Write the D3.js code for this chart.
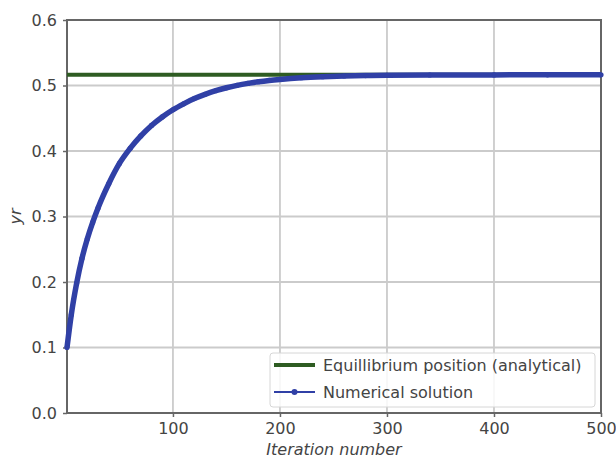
<!DOCTYPE html>
<html>
<head>
<meta charset="utf-8">
<script src="https://cdn.jsdelivr.net/npm/d3@7"></script>
<style>
  html, body { margin: 0; padding: 0; background: #fff; }
  svg { display: block; font-family: "DejaVu Sans", sans-serif; }
</style>
</head>
<body>
<svg id="chart" width="616" height="459"></svg>
<script>
// Iteration numbers at which the numerical solution is sampled
const iterations = [1, 5, 10, 15, 20, 25, 30, 40, 50, 60, 70, 80, 90, 100, 110, 120, 130, 140,
  150, 160, 170, 180, 190, 200, 220, 240, 260, 280, 300, 340, 400, 450, 500];
// Numerical solution y_r at those iterations
const numerical = [0.100, 0.150, 0.198, 0.236, 0.266, 0.291, 0.313, 0.350, 0.381, 0.404, 0.423,
  0.439, 0.452, 0.463, 0.472, 0.480, 0.4865, 0.492, 0.4965, 0.5002, 0.5032, 0.5057, 0.5077,
  0.5093, 0.5118, 0.5134, 0.5145, 0.5152, 0.5156, 0.516, 0.5162, 0.5163, 0.5163];
// Analytical equilibrium position
const equilibrium = 0.5165;
const xTicks = [100, 200, 300, 400, 500];
const yTicks = [0.0, 0.1, 0.2, 0.3, 0.4, 0.5, 0.6];
const legendLabels = ["Equillibrium position (analytical)", "Numerical solution"];

const svg = d3.select("#chart");
const margin = { left: 67, right: 15, top: 20, bottom: 46 };
const W = 616, H = 459;
const fontSize = "16px";

const x = d3.scaleLinear().domain([1, 500]).range([margin.left, W - margin.right]);
const y = d3.scaleLinear().domain([0, 0.6]).range([H - margin.bottom, margin.top]);

const gridColor = "#cbcbcb";
const spineColor = "#666";
const textColor = "#444";

// grid
svg.append("g").selectAll("line.gx").data(xTicks).join("line")
  .attr("x1", d => x(d)).attr("x2", d => x(d))
  .attr("y1", y(0)).attr("y2", y(0.6))
  .attr("stroke", gridColor).attr("stroke-width", 1.8);
svg.append("g").selectAll("line.gy").data(yTicks).join("line")
  .attr("x1", x(1)).attr("x2", x(500))
  .attr("y1", d => y(d)).attr("y2", d => y(d))
  .attr("stroke", gridColor).attr("stroke-width", 1.8);

// axes
const xAxis = svg.append("g").attr("transform", `translate(0,${y(0)})`)
  .call(d3.axisBottom(x).tickValues(xTicks).tickSize(4).tickPadding(6).tickFormat(d3.format("d")));
const yAxis = svg.append("g").attr("transform", `translate(${x(1)},0)`)
  .call(d3.axisLeft(y).tickValues(yTicks).tickSize(4).tickPadding(6).tickFormat(d3.format(".1f")));
[xAxis, yAxis].forEach(g => {
  g.select(".domain").remove();
  g.selectAll(".tick line").attr("stroke", spineColor).attr("stroke-width", 1.5);
  g.selectAll(".tick text").attr("fill", textColor).style("font-size", fontSize)
    .style("font-family", "'DejaVu Sans', sans-serif");
});

// spines
svg.append("rect")
  .attr("x", x(1)).attr("y", y(0.6))
  .attr("width", x(500) - x(1)).attr("height", y(0) - y(0.6))
  .attr("fill", "none").attr("stroke", spineColor).attr("stroke-width", 2);

// equilibrium line
const green = "#2e5c22";
const blue = "#3040a6";
svg.append("line")
  .attr("x1", x(1)).attr("x2", x(500))
  .attr("y1", y(equilibrium)).attr("y2", y(equilibrium))
  .attr("stroke", green).attr("stroke-width", 4);

// numerical solution
const pts = iterations.map((n, i) => [n, numerical[i]]);
const line = d3.line().x(d => x(d[0])).y(d => y(d[1])).curve(d3.curveMonotoneX);
svg.append("path").datum(pts)
  .attr("d", line).attr("fill", "none")
  .attr("stroke", blue).attr("stroke-width", 5.5).attr("stroke-linecap", "butt");
svg.append("g").selectAll("circle").data(pts).join("circle")
  .attr("cx", d => x(d[0])).attr("cy", d => y(d[1])).attr("r", 2.6).attr("fill", blue);

// axis labels
svg.append("text")
  .attr("x", (x(1) + x(500)) / 2).attr("y", 455)
  .attr("text-anchor", "middle").attr("fill", textColor)
  .style("font-size", fontSize).style("font-style", "italic")
  .text("Iteration number");
svg.append("text")
  .attr("transform", `translate(21,${(y(0) + y(0.6)) / 2}) rotate(-90)`)
  .attr("text-anchor", "middle").attr("fill", textColor)
  .style("font-size", fontSize).style("font-style", "italic")
  .text("yr");

// legend
const lg = svg.append("g").attr("transform", "translate(270,353)");
lg.append("rect").attr("width", 325).attr("height", 54).attr("rx", 3)
  .attr("fill", "#fff").attr("fill-opacity", 0.85)
  .attr("stroke", "#d6d6d6").attr("stroke-width", 1);
const items = [{ c: green, marker: false }, { c: blue, marker: true }];
items.forEach((it, i) => {
  const cy = 12 + i * 27;
  lg.append("line").attr("x1", 4).attr("x2", 45).attr("y1", cy).attr("y2", cy)
    .attr("stroke", it.c).attr("stroke-width", it.marker ? 2 : 4);
  if (it.marker) lg.append("circle").attr("cx", 24.5).attr("cy", cy).attr("r", 3).attr("fill", it.c);
  lg.append("text").attr("x", 53).attr("y", cy).attr("dy", "0.35em")
    .attr("fill", textColor).style("font-size", fontSize).text(legendLabels[i]);
});
</script>
</body>
</html>
